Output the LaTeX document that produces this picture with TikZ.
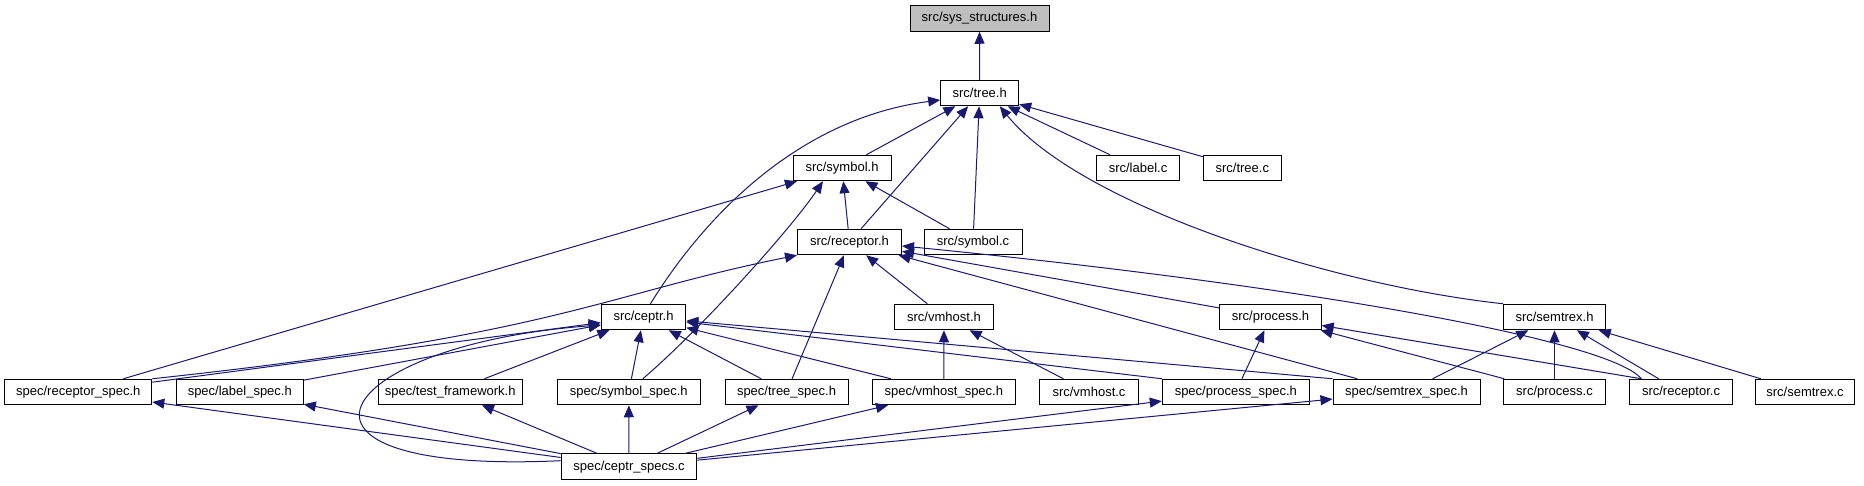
\documentclass[tikz,border=0pt]{standalone}
\usepackage{fontspec}
\setmainfont{Liberation Sans}
\usepackage{xcolor}
\usepackage{tikz}
\usetikzlibrary{arrows.meta}
\definecolor{edgeblue}{RGB}{25,25,112}
\definecolor{rootgray}{RGB}{191,191,191}

\begin{document}
\begin{tikzpicture}[
        x=1pt, y=-1pt,
        file/.style={rectangle, draw=black, line width=1pt, fill=white, minimum height=25.5pt, inner xsep=2pt, inner ysep=0pt, text centered, font=\fontsize{13}{15}\selectfont},
        root/.style={file, fill=rootgray},
        arrow/.style={draw=edgeblue, line width=1pt, -{Triangle[length=12pt,width=10pt]}}
    ]
    \useasboundingbox (0,0) rectangle (1864,485);

    % Nodes
    \node (SysStructures) [root, minimum width=139pt] at (979.5,18.5) {src/sys\_structures.h};
    \node (TreeH) [file, minimum width=78pt] at (979.7,93) {src/tree.h};

    \node (SymbolH) [file, minimum width=98pt] at (842,168) {src/symbol.h};
    \node (LabelC) [file, minimum width=83pt] at (1138,168) {src/label.c};
    \node (TreeC) [file, minimum width=78pt] at (1242.3,168) {src/tree.c};

    \node (ReceptorH) [file, minimum width=104pt] at (849.5,242) {src/receptor.h};
    \node (SymbolC) [file, minimum width=98pt] at (973,242) {src/symbol.c};

    \node (CeptrH) [file, minimum width=84.5pt] at (643.5,317) {src/ceptr.h};
    \node (VmhostH) [file, minimum width=99pt] at (944,317) {src/vmhost.h};
    \node (ProcessH) [file, minimum width=101.5pt] at (1270.5,317) {src/process.h};
    \node (SemtrexH) [file, minimum width=102pt] at (1554.5,317) {src/semtrex.h};

    % Bottom row
    \node (ReceptorSpec) [file, minimum width=147pt] at (78.3,392) {spec/receptor\_spec.h};
    \node (LabelSpec) [file, minimum width=127pt] at (239.8,392) {spec/label\_spec.h};
    \node (TestFramework) [file, minimum width=143.6pt] at (450.2,392) {spec/test\_framework.h};
    \node (SymbolSpec) [file, minimum width=143pt] at (628.8,392) {spec/symbol\_spec.h};
    \node (TreeSpec) [file, minimum width=123pt] at (786.5,392) {spec/tree\_spec.h};
    \node (VmhostSpec) [file, minimum width=143pt] at (943.8,392) {spec/vmhost\_spec.h};
    \node (VmhostC) [file, minimum width=99pt] at (1089,392) {src/vmhost.c};
    \node (ProcessSpec) [file, minimum width=147pt] at (1235.8,392) {spec/process\_spec.h};
    \node (SemtrexSpec) [file, minimum width=147pt] at (1406.5,392) {spec/semtrex\_spec.h};
    \node (ProcessC) [file, minimum width=101.6pt] at (1554.5,392) {src/process.c};
    \node (ReceptorC) [file, minimum width=102.5pt] at (1681,392) {src/receptor.c};
    \node (SemtrexC) [file, minimum width=99pt] at (1805,392) {src/semtrex.c};

    \node (CeptrSpecs) [file, minimum width=135.7pt] at (629,466.7) {spec/ceptr\_specs.c};

    % Arrows into tree.h
    \draw [arrow] (TreeH) -- (SysStructures);
    \draw [arrow] (SymbolH) -- (TreeH);
    \draw [arrow] (LabelC) -- (TreeH);
    \draw [arrow] (TreeC) -- (TreeH);
    \draw [arrow] (ReceptorH) -- (TreeH);
    \draw [arrow] (SymbolC) -- (TreeH);
    \draw [arrow] ([xshift=7pt]CeptrH.north) .. controls (705,215) and (800,118) .. ([yshift=-7pt]TreeH.west);
    \draw [arrow] (SemtrexH.north west) .. controls (1330,285) and (1080,205) .. ([xshift=20pt]TreeH.south);

    % Arrows into symbol.h
    \draw [arrow] (ReceptorSpec) -- (SymbolH);
    \draw [arrow] ([xshift=14pt]SymbolSpec.north) .. controls (700,330) and (790,230) .. ([xshift=-19pt]SymbolH.south);
    \draw [arrow] (ReceptorH) -- (SymbolH);
    \draw [arrow] (SymbolC) -- (SymbolH);

    % Arrows into receptor.h
    \draw [arrow] (ReceptorSpec.north east) .. controls (560,335) and (600,295) .. (ReceptorH.south west);
    \draw [arrow] (TreeSpec) -- (ReceptorH);
    \draw [arrow] (VmhostH) -- (ReceptorH);
    \draw [arrow] (ProcessH) -- (ReceptorH);
    \draw [arrow] (SemtrexSpec) -- (ReceptorH);
    \draw [arrow] ([xshift=12pt]ReceptorC.north west) .. controls (1610,340) and (1300,285) .. ([yshift=-4pt]ReceptorH.east);

    % Arrows into ceptr.h
    \draw [arrow] (ReceptorSpec) -- (CeptrH);
    \draw [arrow] (LabelSpec) -- (CeptrH);
    \draw [arrow] (TestFramework) -- (CeptrH);
    \draw [arrow] (SymbolSpec) -- (CeptrH);
    \draw [arrow] (TreeSpec) -- (CeptrH);
    \draw [arrow] (VmhostSpec) -- (CeptrH);
    \draw [arrow] (ProcessSpec.north west) -- (CeptrH);
    \draw [arrow] (SemtrexSpec.north west) -- (CeptrH);
    \draw [arrow] ([yshift=6pt]CeptrSpecs.west) .. controls (250,475) and (330,345) .. ([yshift=-8pt]CeptrH.west);

    % vmhost.h, process.h, semtrex.h
    \draw [arrow] (VmhostSpec) -- (VmhostH);
    \draw [arrow] (VmhostC) -- (VmhostH);
    \draw [arrow] (ProcessSpec) -- (ProcessH);
    \draw [arrow] (ProcessC) -- (ProcessH);
    \draw [arrow] ([xshift=12pt]ReceptorC.north west) -- (ProcessH);
    \draw [arrow] (SemtrexSpec) -- (SemtrexH);
    \draw [arrow] (ProcessC) -- (SemtrexH);
    \draw [arrow] (ReceptorC) -- (SemtrexH);
    \draw [arrow] (SemtrexC) -- (SemtrexH);

    % ceptr_specs.c includes
    \draw [arrow] (CeptrSpecs) -- (ReceptorSpec);
    \draw [arrow] (CeptrSpecs) -- (LabelSpec);
    \draw [arrow] (CeptrSpecs) -- (TestFramework);
    \draw [arrow] (CeptrSpecs) -- (SymbolSpec);
    \draw [arrow] (CeptrSpecs) -- (TreeSpec);
    \draw [arrow] (CeptrSpecs) -- (VmhostSpec);
    \draw [arrow] (CeptrSpecs) -- (ProcessSpec);
    \draw [arrow] (CeptrSpecs) -- (SemtrexSpec);

\end{tikzpicture}
\end{document}
